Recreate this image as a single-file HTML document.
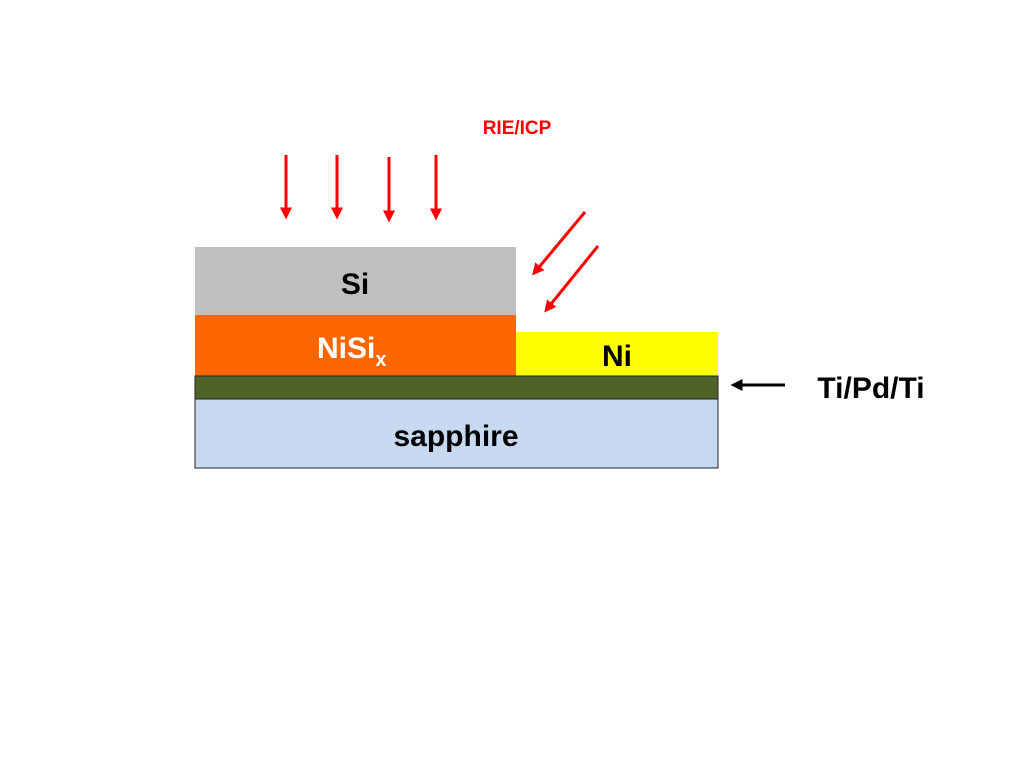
<!DOCTYPE html>
<html><head><style>body{margin:0;background:#fff}svg{display:block}</style></head>
<body>
<svg width="1024" height="768" viewBox="0 0 1024 768" xmlns="http://www.w3.org/2000/svg" font-family="Liberation Sans, Arial, sans-serif" font-weight="bold">
<defs>
<marker id="r" markerWidth="4" markerHeight="4" refX="2.5" refY="2" orient="auto" markerUnits="strokeWidth"><path d="M0,0 L4,2 L0,4 z" fill="#f00"/></marker>
<marker id="k" markerWidth="4" markerHeight="4" refX="2.5" refY="2" orient="auto" markerUnits="strokeWidth"><path d="M0,0 L4,2 L0,4 z" fill="#000"/></marker>
</defs>
<rect x="195" y="247" width="321" height="68" fill="#bfbfbf"/>
<rect x="195" y="315" width="321" height="61" fill="#ff6600"/>
<rect x="516" y="332" width="202" height="44" fill="#ffff00"/>
<rect x="195" y="376" width="523" height="23" fill="#4f6228" stroke="#222" stroke-width="1"/>
<rect x="195" y="399" width="523" height="69" fill="#c6d9f1" stroke="#222" stroke-width="1"/>
<text x="355" y="294" font-size="30" text-anchor="middle" fill="#000">Si</text>
<text x="317" y="358" font-size="30" fill="#fff">NiSi<tspan font-size="20" dy="8">x</tspan></text>
<text x="617" y="366" font-size="30" text-anchor="middle" fill="#000">Ni</text>
<text x="456" y="446" font-size="30" text-anchor="middle" fill="#000">sapphire</text>
<text x="871" y="398" font-size="30" text-anchor="middle" fill="#000">Ti/Pd/Ti</text>
<text x="517" y="134" font-size="19" text-anchor="middle" fill="#f00">RIE/ICP</text>
<g stroke="#f00" stroke-width="3" marker-end="url(#r)">
<line x1="286" y1="155" x2="286" y2="215"/>
<line x1="337" y1="155" x2="337" y2="215"/>
<line x1="389" y1="157" x2="389" y2="218"/>
<line x1="436" y1="155" x2="436" y2="216"/>
<line x1="585" y1="212" x2="535" y2="272"/>
<line x1="598" y1="246" x2="547" y2="309"/>
</g>
<line x1="785" y1="385" x2="735" y2="385" stroke="#000" stroke-width="3" marker-end="url(#k)"/>
</svg>
</body></html>
